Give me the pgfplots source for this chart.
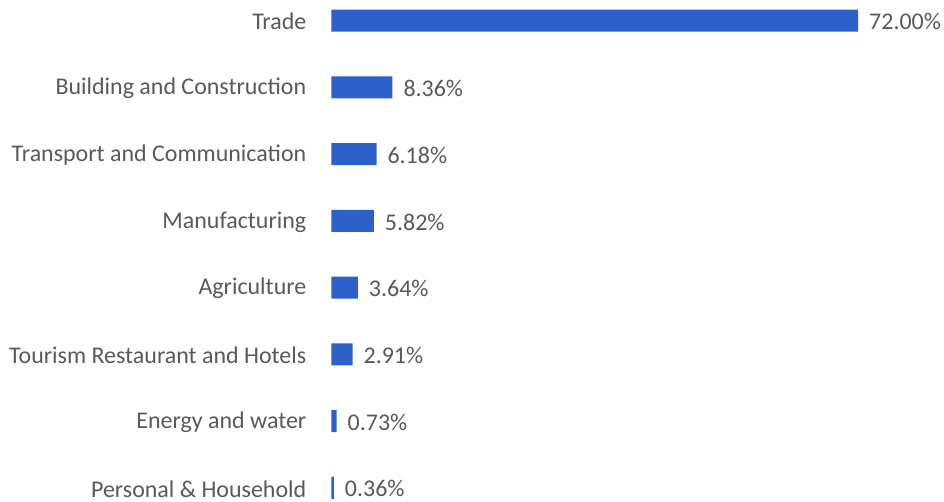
\documentclass[border=0pt]{standalone}
\usepackage{pgfplots}
\pgfplotsset{compat=1.18}
\usepackage{fontspec}
\setmainfont{Carlito}
\definecolor{barblue}{HTML}{2D60C8}
\definecolor{txtgray}{HTML}{595959}
\begin{document}
\begin{tikzpicture}
\begin{axis}[
  scale only axis,
  width=264pt, height=251.5pt,
  xbar, bar width=11pt,
  xmin=0, xmax=72,
  ymin=-0.21, ymax=7.31,
  ytick={0,...,7},
  yticklabels={Personal \& Household, Energy and water, Tourism Restaurant and Hotels, Agriculture, Manufacturing, Transport and Communication, Building and Construction, Trade},
  xtick=\empty,
  axis line style={draw=none},
  major tick length=0pt,
  yticklabel style={font=\fontsize{12}{14}\selectfont, text=txtgray, xshift=-9pt, yshift=-0.5pt},
  /pgf/number format/assume math mode=true,
  nodes near coords={\pgfmathprintnumber[fixed,fixed zerofill,precision=2,assume math mode=true]{\pgfplotspointmeta}\%},
  nodes near coords style={font=\fontsize{12}{14}\selectfont, text=txtgray, xshift=2pt, yshift=-0.5pt},
  point meta=x,
  clip=false,
]
\addplot[draw=none, fill=barblue] coordinates {
  (0.36,0) (0.73,1) (2.91,2) (3.64,3) (5.82,4) (6.18,5) (8.36,6) (72.00,7)
};
\coordinate (a) at (rel axis cs:0,0);
\coordinate (b) at (rel axis cs:1,1);
\end{axis}
\pgfresetboundingbox
\path[use as bounding box] ([xshift=-166pt]a) rectangle ([xshift=43pt]b);
\end{tikzpicture}
\end{document}
